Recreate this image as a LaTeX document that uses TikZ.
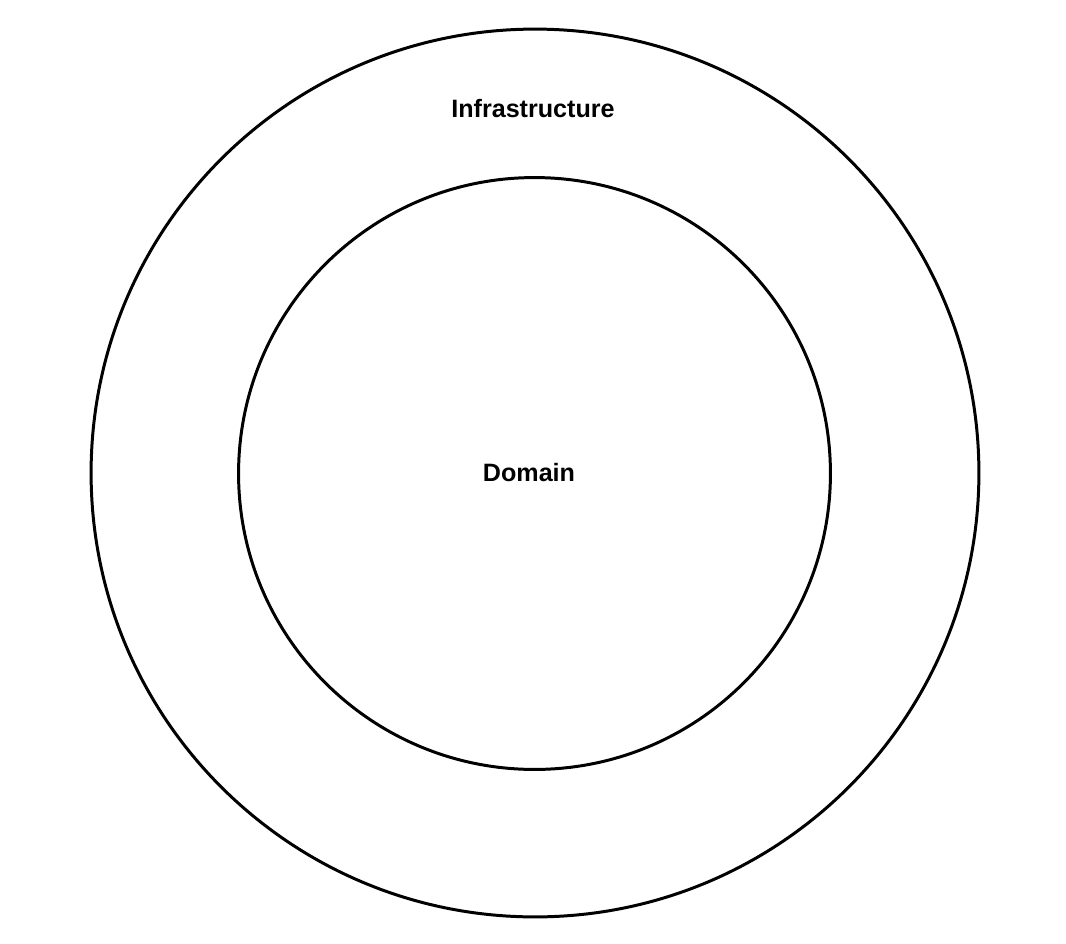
\documentclass[tikz,border=0pt]{standalone}
\usepackage{fontspec}
\setmainfont{Liberation Sans}
\tikzset{
  camada/.style={circle, draw=black, line width=1.7pt, inner sep=0pt},
  titulo/.style={font=\fontsize{14.3}{16}\selectfont\bfseries, inner sep=0pt},
}

\begin{document}
\begin{tikzpicture}[x=0.02cm, y=-0.02cm]
  \useasboundingbox (0,0) rectangle (1066,944);

  % ---------------- camadas ----------------
  \node[camada, minimum size=17.76cm] (infra) at (535,473) {};
  \node[camada, minimum size=11.84cm] (dominio) at (534.5,473.5) {};

  % ---------------- rotulos ----------------
  \node[titulo] (infralabel) at (533,109) {Infrastructure};
  \node[titulo] (dominiolabel) at (529,473) {Domain};
\end{tikzpicture}
\end{document}
